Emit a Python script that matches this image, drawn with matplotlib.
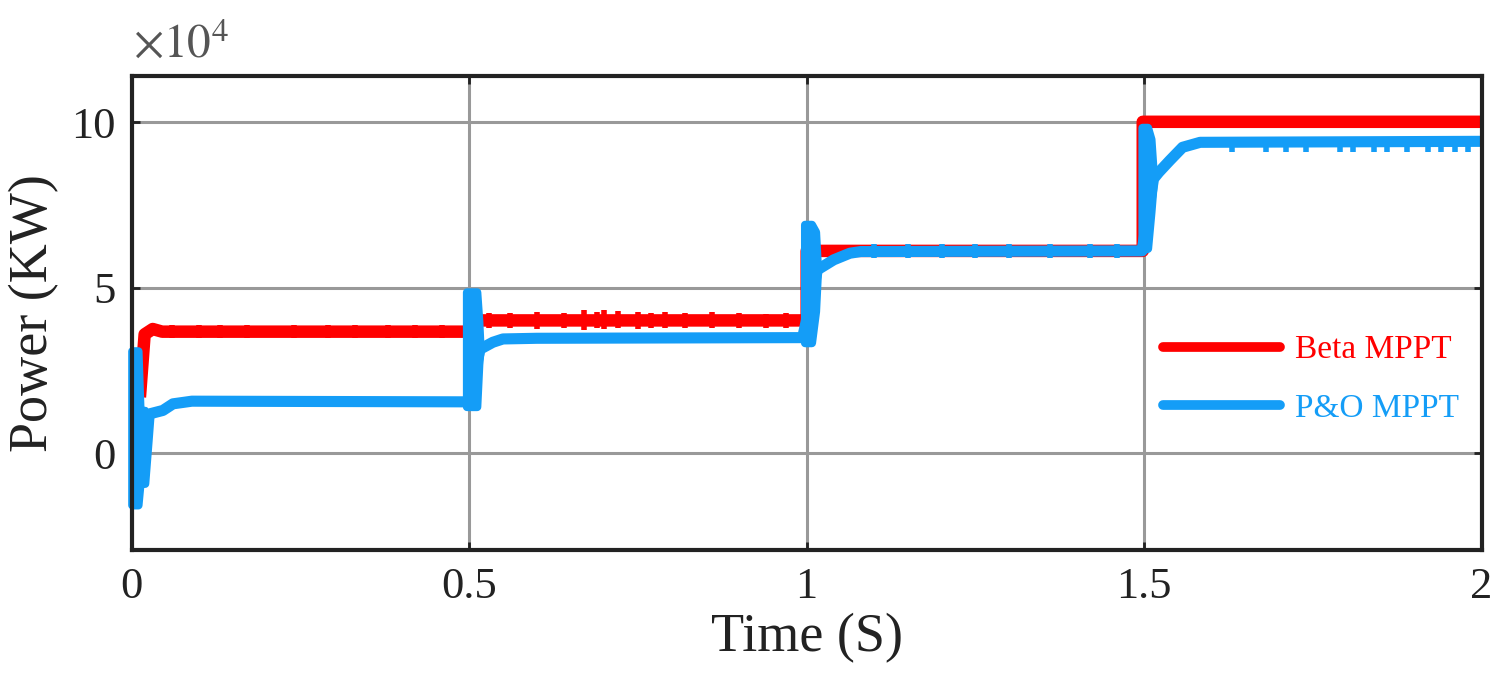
import matplotlib
matplotlib.use("Agg")
import matplotlib.pyplot as plt

plt.rcParams['font.family'] = ['Liberation Serif', 'DejaVu Serif']
plt.rcParams['mathtext.fontset'] = 'stix'

# power values in units of 1e4
beta_t = [0.012, 0.019, 0.031, 0.045, 0.5, 0.5, 1.0, 1.0, 1.498, 1.498, 2.0]
beta_p = [1.7, 3.6, 3.76, 3.68, 3.68, 4.02, 4.02, 6.12, 6.12, 10.02, 10.02]

# settled P&O trace between the switching transients
po_t = [0.027, 0.046, 0.061, 0.089, 0.498,
        0.516, 0.535, 0.55, 0.6, 0.994,
        1.016, 1.04, 1.064, 1.08, 1.497,
        1.514, 1.522, 1.538, 1.557, 1.583, 2.0]
po_p = [1.2, 1.3, 1.5, 1.58, 1.56,
        3.15, 3.36, 3.46, 3.48, 3.5,
        5.55, 5.85, 6.05, 6.1, 6.12,
        8.3, 8.5, 8.85, 9.25, 9.4, 9.43]

# oscillation envelopes of the P&O trace at each step (time, low, high)
po_env_t = [[0.0, 0.009, 0.012, 0.019, 0.024, 0.027],
            [0.496, 0.511, 0.514, 0.516],
            [0.997, 1.007, 1.013, 1.016],
            [1.497, 1.505, 1.51, 1.514]]
po_env_lo = [[-1.55, -1.55, -0.9, -0.9, 0.4, 1.2],
             [1.42, 1.42, 2.7, 3.15],
             [3.35, 3.35, 4.3, 5.55],
             [6.15, 6.2, 7.3, 8.3]]
po_env_hi = [[3.1, 3.1, 1.3, 1.3, 1.2, 1.2],
             [4.88, 4.88, 4.0, 3.15],
             [6.92, 6.92, 6.7, 5.55],
             [9.85, 9.85, 9.5, 8.3]]

# short ripple spikes (time, low, high)
beta_rip_t = [0.06, 0.1, 0.13, 0.17, 0.24, 0.29, 0.33, 0.38, 0.42, 0.46,
              0.53, 0.56, 0.6, 0.64, 0.67, 0.69, 0.7, 0.72, 0.75, 0.77, 0.79, 0.82, 0.86, 0.9, 0.94, 0.97]
beta_rip_lo = [3.5, 3.5, 3.5, 3.5, 3.5, 3.5, 3.5, 3.5, 3.5, 3.5,
               3.8, 3.8, 3.76, 3.8, 3.74, 3.78, 3.76, 3.8, 3.76, 3.8, 3.8, 3.8, 3.78, 3.8, 3.8, 3.8]
beta_rip_hi = [3.88, 3.88, 3.88, 3.88, 3.88, 3.88, 3.88, 3.88, 3.88, 3.88,
               4.25, 4.25, 4.28, 4.25, 4.32, 4.28, 4.32, 4.3, 4.28, 4.25, 4.28, 4.25, 4.28, 4.25, 4.22, 4.25]

po_rip_t = [1.1, 1.15, 1.2, 1.25, 1.3, 1.36, 1.42, 1.46,
            1.63, 1.68, 1.71, 1.74, 1.79, 1.81, 1.84, 1.86, 1.89, 1.92, 1.94, 1.96, 1.98]
po_rip_lo = [5.92, 5.92, 5.92, 5.92, 5.92, 5.92, 5.92, 5.92,
             9.12, 9.12, 9.12, 9.12, 9.12, 9.12, 9.12, 9.12, 9.12, 9.12, 9.12, 9.12, 9.12]
po_rip_hi = [6.32, 6.32, 6.32, 6.32, 6.32, 6.32, 6.32, 6.32,
             9.5, 9.5, 9.5, 9.5, 9.5, 9.5, 9.5, 9.5, 9.5, 9.5, 9.5, 9.5, 9.5]

red = '#ff0000'
blue = '#149df7'

fig = plt.figure(figsize=(14.98, 6.92), dpi=100)
ax = fig.add_axes([0.088, 0.205, 0.901, 0.685])

ax.plot(beta_t, beta_p, color=red, lw=9, solid_capstyle='butt', label='Beta MPPT', zorder=3)
ax.vlines(beta_rip_t, beta_rip_lo, beta_rip_hi, color=red, lw=4, zorder=3)

ax.plot(po_t, po_p, color=blue, lw=8, solid_capstyle='butt', label='P&O MPPT', zorder=4)
for et, elo, ehi in zip(po_env_t, po_env_lo, po_env_hi):
    ax.fill_between(et, elo, ehi, color=blue, edgecolor=blue, lw=6, zorder=4, clip_on=False)
ax.vlines(po_rip_t, po_rip_lo, po_rip_hi, color=blue, lw=4, zorder=4)

ax.set_xlim(0, 2)
ax.set_ylim(-2.92, 11.4)
ax.set_xticks([0, 0.5, 1, 1.5, 2])
ax.set_xticklabels(['0', '0.5', '1', '1.5', '2'])
ax.set_yticks([0, 5, 10])
ax.grid(True, color='#999999', lw=2.2)
ax.set_axisbelow(True)

for s in ax.spines.values():
    s.set_linewidth(3)
    s.set_color('#222222')
    s.set_zorder(5)
ax.tick_params(direction='in', length=6, width=2, top=True, right=True,
               labelsize=32, colors='#222222', pad=12)

ax.set_xlabel('Time (S)', fontsize=39, color='#222222', labelpad=4)
ax.set_ylabel('Power (KW)', fontsize=39, color='#222222', labelpad=8)

fig.text(0.089, 1 - 58 / 692, r'$\times10^{4}$', fontsize=34, color='#555555', va='baseline')

leg = ax.legend(loc='center left', bbox_to_anchor=(0.764, 0.36), frameon=False,
                fontsize=24, handlelength=3.5, handletextpad=0.45, labelspacing=0.85,
                borderaxespad=0, borderpad=0, labelcolor='linecolor')
for h in leg.get_lines():
    h.set_linewidth(7)
    h.set_solid_capstyle('round')

fig.savefig('out.png', dpi=100)
